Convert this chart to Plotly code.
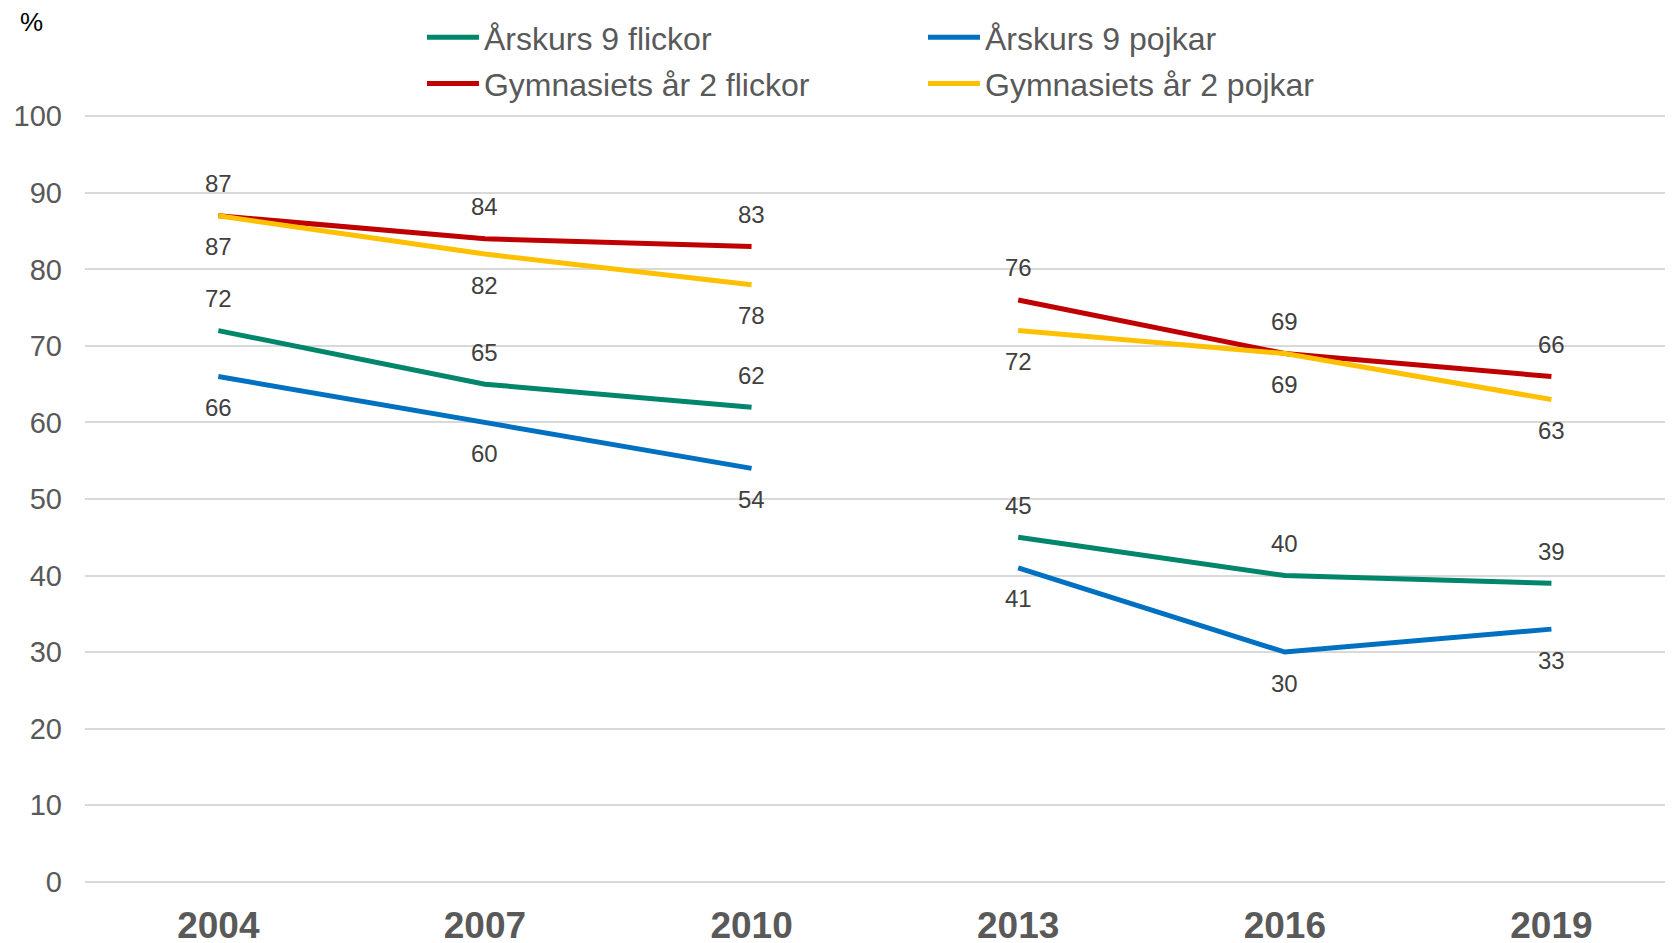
import plotly.graph_objects as go

years = ["2004", "2007", "2010", "2013", "2016", "2019"]
series_names = ["Årskurs 9 flickor", "Årskurs 9 pojkar", "Gymnasiets år 2 flickor", "Gymnasiets år 2 pojkar"]
ak9_flickor = [72, 65, 62, 45, 40, 39]
ak9_pojkar = [66, 60, 54, 41, 30, 33]
gy2_flickor = [87, 84, 83, 76, 69, 66]
gy2_pojkar = [87, 82, 78, 72, 69, 63]

values = [ak9_flickor, ak9_pojkar, gy2_flickor, gy2_pojkar]
colors = ["#00866A", "#0070C0", "#C00000", "#FFC000"]
label_above = [True, False, True, False]
legend_column = ["legend", "legend2", "legend", "legend2"]

# Two survey periods (lines are not joined between 2010 and 2013)
segments = [(0, 3), (3, 6)]

FONT = "Liberation Sans, Arial"

fig = go.Figure()
idx = list(range(len(years)))
for name, vals, col, lg in zip(series_names, values, colors, legend_column):
    for k, (a, b) in enumerate(segments):
        fig.add_trace(go.Scatter(
            x=idx[a:b], y=vals[a:b], mode="lines", name=name,
            line=dict(color=col, width=5), legendgroup=name, legend=lg,
            showlegend=(k == 0), hoverinfo="skip"))

for vals, above in zip(values, label_above):
    for i, v in zip(idx, vals):
        fig.add_annotation(x=i, y=v, text=str(v), showarrow=False,
                           yshift=32 if above else -31,
                           font=dict(size=24, color="#404040", family=FONT))

fig.add_annotation(xref="paper", yref="paper", x=-0.0334, y=1.119, xanchor="center", yanchor="middle",
                   text="%", showarrow=False,
                   font=dict(size=26, color="#000000", family=FONT))

legend_style = dict(orientation="v", traceorder="grouped", yanchor="top", xanchor="left",
                    font=dict(size=32, color="#595959", family=FONT),
                    itemwidth=52, tracegroupgap=1.5, bgcolor="rgba(0,0,0,0)")

fig.update_layout(
    width=1665, height=935,
    margin=dict(l=77, r=0, t=106, b=59, autoexpand=False),
    plot_bgcolor="white", paper_bgcolor="white",
    font=dict(family=FONT, color="#595959"),
    showlegend=True,
    legend=dict(x=0.2122, y=1.135, **legend_style),
    legend2=dict(x=0.5277, y=1.135, **legend_style),
)
fig.update_xaxes(tickmode="array", tickvals=idx, ticktext=years, automargin=False,
                 range=[-0.5, 5.456], showgrid=False, zeroline=False, showline=False,
                 tickfont=dict(size=37, color="#595959", family=FONT, weight="bold"),
                 ticklabelstandoff=16)
fig.update_yaxes(range=[-0.3, 100.3], tickvals=list(range(0, 101, 10)), automargin=False,
                 showgrid=True, gridcolor="#D9D9D9", gridwidth=1.5,
                 zeroline=False, showline=False,
                 tickfont=dict(size=29, color="#595959", family=FONT),
                 ticklabelstandoff=22)

fig.write_html("out.html")
